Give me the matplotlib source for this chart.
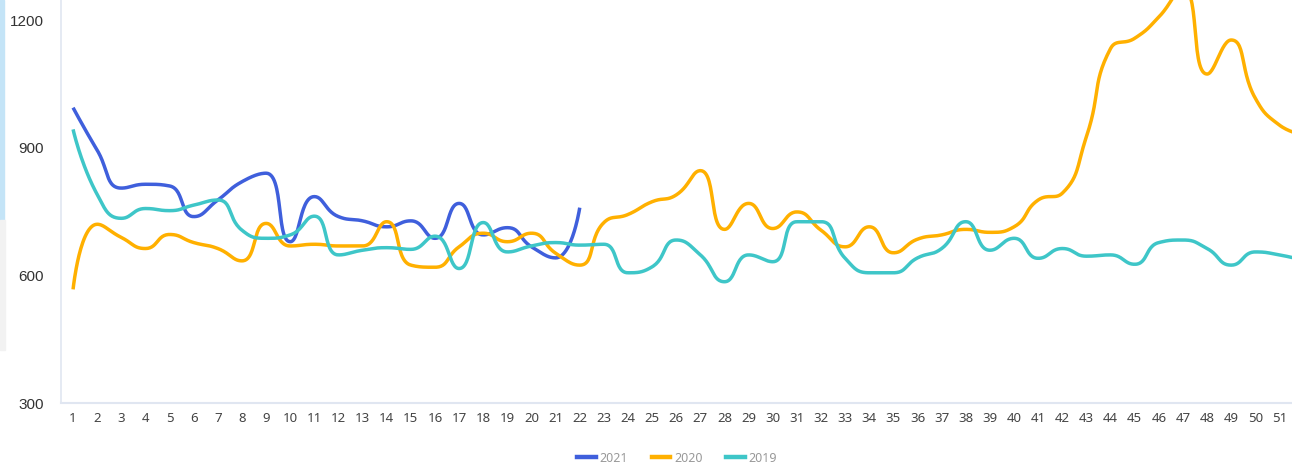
import numpy as np
import matplotlib.pyplot as plt
from matplotlib.lines import Line2D
from matplotlib.patches import Rectangle

weeks = list(range(1, 53))
weeks_2021 = list(range(1, 23))

vals_2021 = [994, 894, 805, 814, 810, 738, 777, 820, 840, 679, 785,
             738, 728, 714, 728, 687, 769, 695, 712, 667, 641, 759]

vals_2020 = [567, 720, 689, 663, 696, 677, 663, 634, 722, 669, 673,
             669, 669, 726, 624, 619, 667, 699, 679, 699, 652, 624,
             724, 743, 773, 789, 846, 708, 769, 710, 749, 706, 667,
             714, 653, 685, 695, 708, 701, 714, 777, 793, 926, 1133,
             1157, 1207, 1275, 1073, 1153, 1016, 953, 930]

vals_2019 = [943, 790, 734, 757, 752, 765, 777, 706, 687, 695, 739,
             648, 659, 665, 661, 692, 616, 724, 655, 669, 677, 671,
             673, 606, 620, 683, 648, 585, 648, 632, 726, 726, 640,
             606, 606, 641, 663, 726, 659, 687, 640, 663, 645, 648,
             626, 677, 683, 663, 624, 655, 648, 635]

series = [("2021", weeks_2021, vals_2021, "#3f5fdc"),
          ("2020", weeks, vals_2020, "#ffb000"),
          ("2019", weeks, vals_2019, "#3ec6c8")]


def smooth_line(ax, xs, ys, smooth=0.5, n=30):
    """echarts-like smoothing done in pixel space, returned in data coords."""
    pts = ax.transData.transform(np.column_stack([xs, ys]))
    m = len(pts)
    cp_in = pts.copy()
    cp_out = pts.copy()
    for i in range(1, m - 1):
        prev, cur, nxt = pts[i - 1], pts[i], pts[i + 1]
        vec = nxt - prev
        l0 = np.hypot(*(cur - prev))
        l1 = np.hypot(*(nxt - cur))
        r = l1 / (l0 + l1)
        c_out = cur + vec * smooth * r
        c_out = np.minimum(c_out, np.maximum(nxt, cur))
        c_out = np.maximum(c_out, np.minimum(nxt, cur))
        c_in = cur - (c_out - cur) * l0 / l1
        c_in = np.minimum(c_in, np.maximum(prev, cur))
        c_in = np.maximum(c_in, np.minimum(prev, cur))
        c_out = cur + (cur - c_in) * l1 / l0
        cp_in[i] = c_in
        cp_out[i] = c_out
    t = np.linspace(0, 1, n)[:, None]
    out = []
    for i in range(m - 1):
        p0, p1, p2, p3 = pts[i], cp_out[i], cp_in[i + 1], pts[i + 1]
        b = ((1 - t) ** 3) * p0 + 3 * ((1 - t) ** 2) * t * p1 \
            + 3 * (1 - t) * t ** 2 * p2 + t ** 3 * p3
        out.append(b if i == 0 else b[1:])
    out = np.vstack(out)
    return ax.transData.inverted().transform(out)


W, H = 1292, 465
fig = plt.figure(figsize=(W / 100, H / 100), dpi=100)
ax = fig.add_axes([61 / W, (H - 403) / H, 1 - 61 / W, 403 / H])

ax.set_xlim(0.5, 51.52)
ax.set_ylim(300, 1247)

for name, xs, ys, col in series:
    pts = smooth_line(ax, xs, ys)
    ax.plot(pts[:, 0], pts[:, 1], color=col, lw=2.5, solid_capstyle="butt")

ax.set_xticks(weeks[:51])
ax.set_xticklabels([str(w) for w in weeks[:51]], fontsize=9.5,
                   family="Noto Sans", color="#444444")
ax.set_yticks([300, 600, 900, 1200])
ax.set_yticklabels(["300", "600", "900", "1200"], fontsize=11,
                   family="Liberation Sans", color="#333333")
# pads are in points (17 px / 10 px)
ax.tick_params(axis="x", length=0, pad=6.5)
ax.tick_params(axis="y", length=0, pad=12.2)

for s in ["top", "right"]:
    ax.spines[s].set_visible(False)
ax.spines["left"].set_color("#e0e6f1")
ax.spines["bottom"].set_color("#e0e6f1")
ax.spines["left"].set_linewidth(1.2)
ax.spines["bottom"].set_linewidth(1.5)

handles = [Line2D([0], [0], color=c, lw=3.2) for _, _, _, c in series]
leg = fig.legend(handles, [s[0] for s in series], loc="center",
                 bbox_to_anchor=(677 / W, 7 / H), ncol=3, frameon=False,
                 handlelength=1.5, handletextpad=0.3, columnspacing=1.9,
                 prop={"family": "Noto Sans", "size": 9})
for txt in leg.get_texts():
    txt.set_color("#999999")

# cropped panel edge at left
fig.patches.append(Rectangle((0, (H - 220) / H), 4 / W, 220 / H,
                             transform=fig.transFigure, color="#c4e4f7",
                             zorder=0))
fig.patches.append(Rectangle((0, (H - 350) / H), 5 / W, 130 / H,
                             transform=fig.transFigure, color="#f2f2f2",
                             zorder=0))

fig.savefig("out.png", dpi=100)
